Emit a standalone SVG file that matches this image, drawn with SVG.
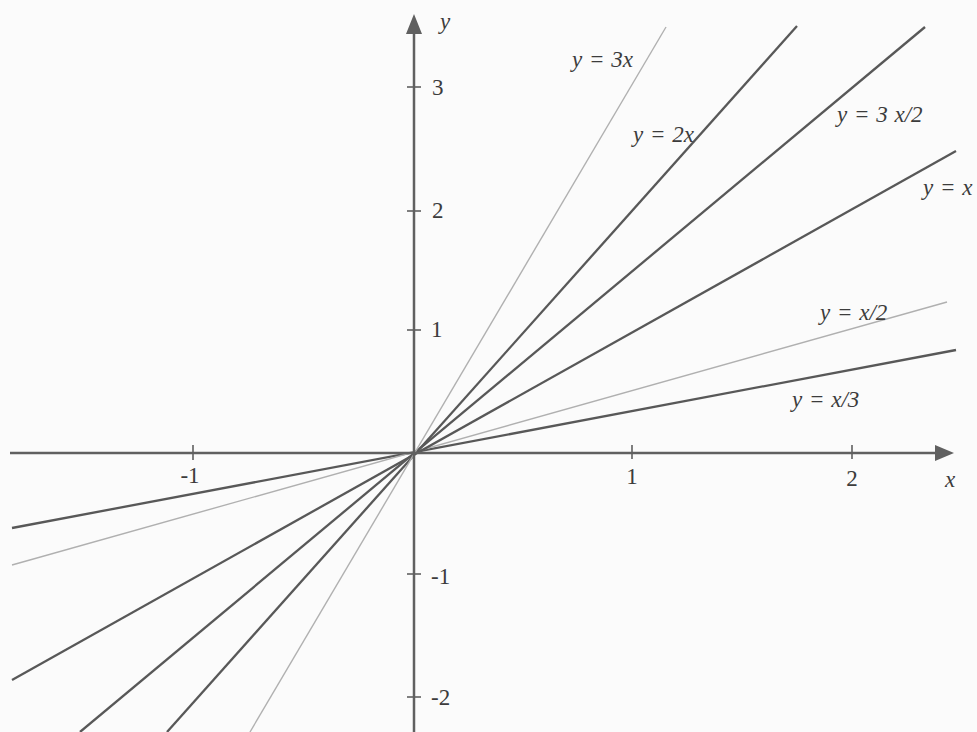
<svg xmlns="http://www.w3.org/2000/svg" width="977" height="732" viewBox="0 0 977 732">
  <style>
    .axis { stroke: #606060; stroke-width: 2.5; fill: none; }
    .tick { stroke: #606060; stroke-width: 1.6; }
    .head { fill: #606060; }
    .dark { stroke: #585858; stroke-width: 2.3; fill: none; }
    .light { stroke: #b0b0b0; stroke-width: 1.4; fill: none; }
    .num { font-family: "Liberation Serif", "DejaVu Serif", serif; font-size: 23px; fill: #3c3c3c; }
    .lbl { font-family: "Liberation Serif", "DejaVu Serif", serif; font-style: italic; font-size: 23px; fill: #3c3c3c; word-spacing: 1px; }
  </style>
  <rect x="0" y="0" width="977" height="732" fill="#fbfbfb"/>

  <g id="lines">
    <line id="line-x3" class="dark" x1="12" y1="528" x2="956" y2="350"/>
    <line id="line-x2" class="light" x1="12" y1="565" x2="947" y2="302"/>
    <line id="line-1x" class="dark" x1="12" y1="680" x2="956" y2="151"/>
    <line id="line-3x2" class="dark" x1="80" y1="732" x2="925" y2="27"/>
    <line id="line-2x" class="dark" x1="167" y1="732" x2="797" y2="26"/>
    <line id="line-3x" class="light" x1="250" y1="732" x2="666" y2="27"/>
  </g>

  <g id="x-axis">
    <line class="axis" x1="10" y1="453" x2="938" y2="453"/>
    <polygon class="head" points="954,453 935,445 935,461"/>
    <line class="tick" x1="193" y1="445" x2="193" y2="460"/>
    <line class="tick" x1="632" y1="445" x2="632" y2="459"/>
    <line class="tick" x1="852" y1="445" x2="852" y2="459"/>
    <text class="num" x="190" y="483" text-anchor="middle">-1</text>
    <text class="num" x="632" y="484" text-anchor="middle">1</text>
    <text class="num" x="852" y="486" text-anchor="middle">2</text>
    <text class="lbl" x="950" y="487" text-anchor="middle">x</text>
  </g>

  <g id="y-axis">
    <line class="axis" x1="414" y1="732" x2="414" y2="30"/>
    <polygon class="head" points="414,14 406,34 422,34"/>
    <line class="tick" x1="407" y1="87" x2="421" y2="87"/>
    <line class="tick" x1="407" y1="211" x2="421" y2="211"/>
    <line class="tick" x1="407" y1="330" x2="421" y2="330"/>
    <line class="tick" x1="407" y1="574" x2="421" y2="574"/>
    <line class="tick" x1="407" y1="697" x2="421" y2="697"/>
    <text class="num" x="432" y="95">3</text>
    <text class="num" x="432" y="218">2</text>
    <text class="num" x="431" y="337">1</text>
    <text class="num" x="431" y="584">-1</text>
    <text class="num" x="431" y="705">-2</text>
    <text class="lbl" x="440" y="29">y</text>
  </g>

  <g id="labels">
    <text id="lab-3x" class="lbl" x="572" y="67">y = 3x</text>
    <text id="lab-2x" class="lbl" x="633" y="142">y = 2x</text>
    <text id="lab-3x2" class="lbl" x="837" y="122">y = 3 x/2</text>
    <text id="lab-1x" class="lbl" x="923" y="195">y = x</text>
    <text id="lab-x2" class="lbl" x="820" y="320">y = x/2</text>
    <text id="lab-x3" class="lbl" x="792" y="407">y = x/3</text>
  </g>
</svg>
